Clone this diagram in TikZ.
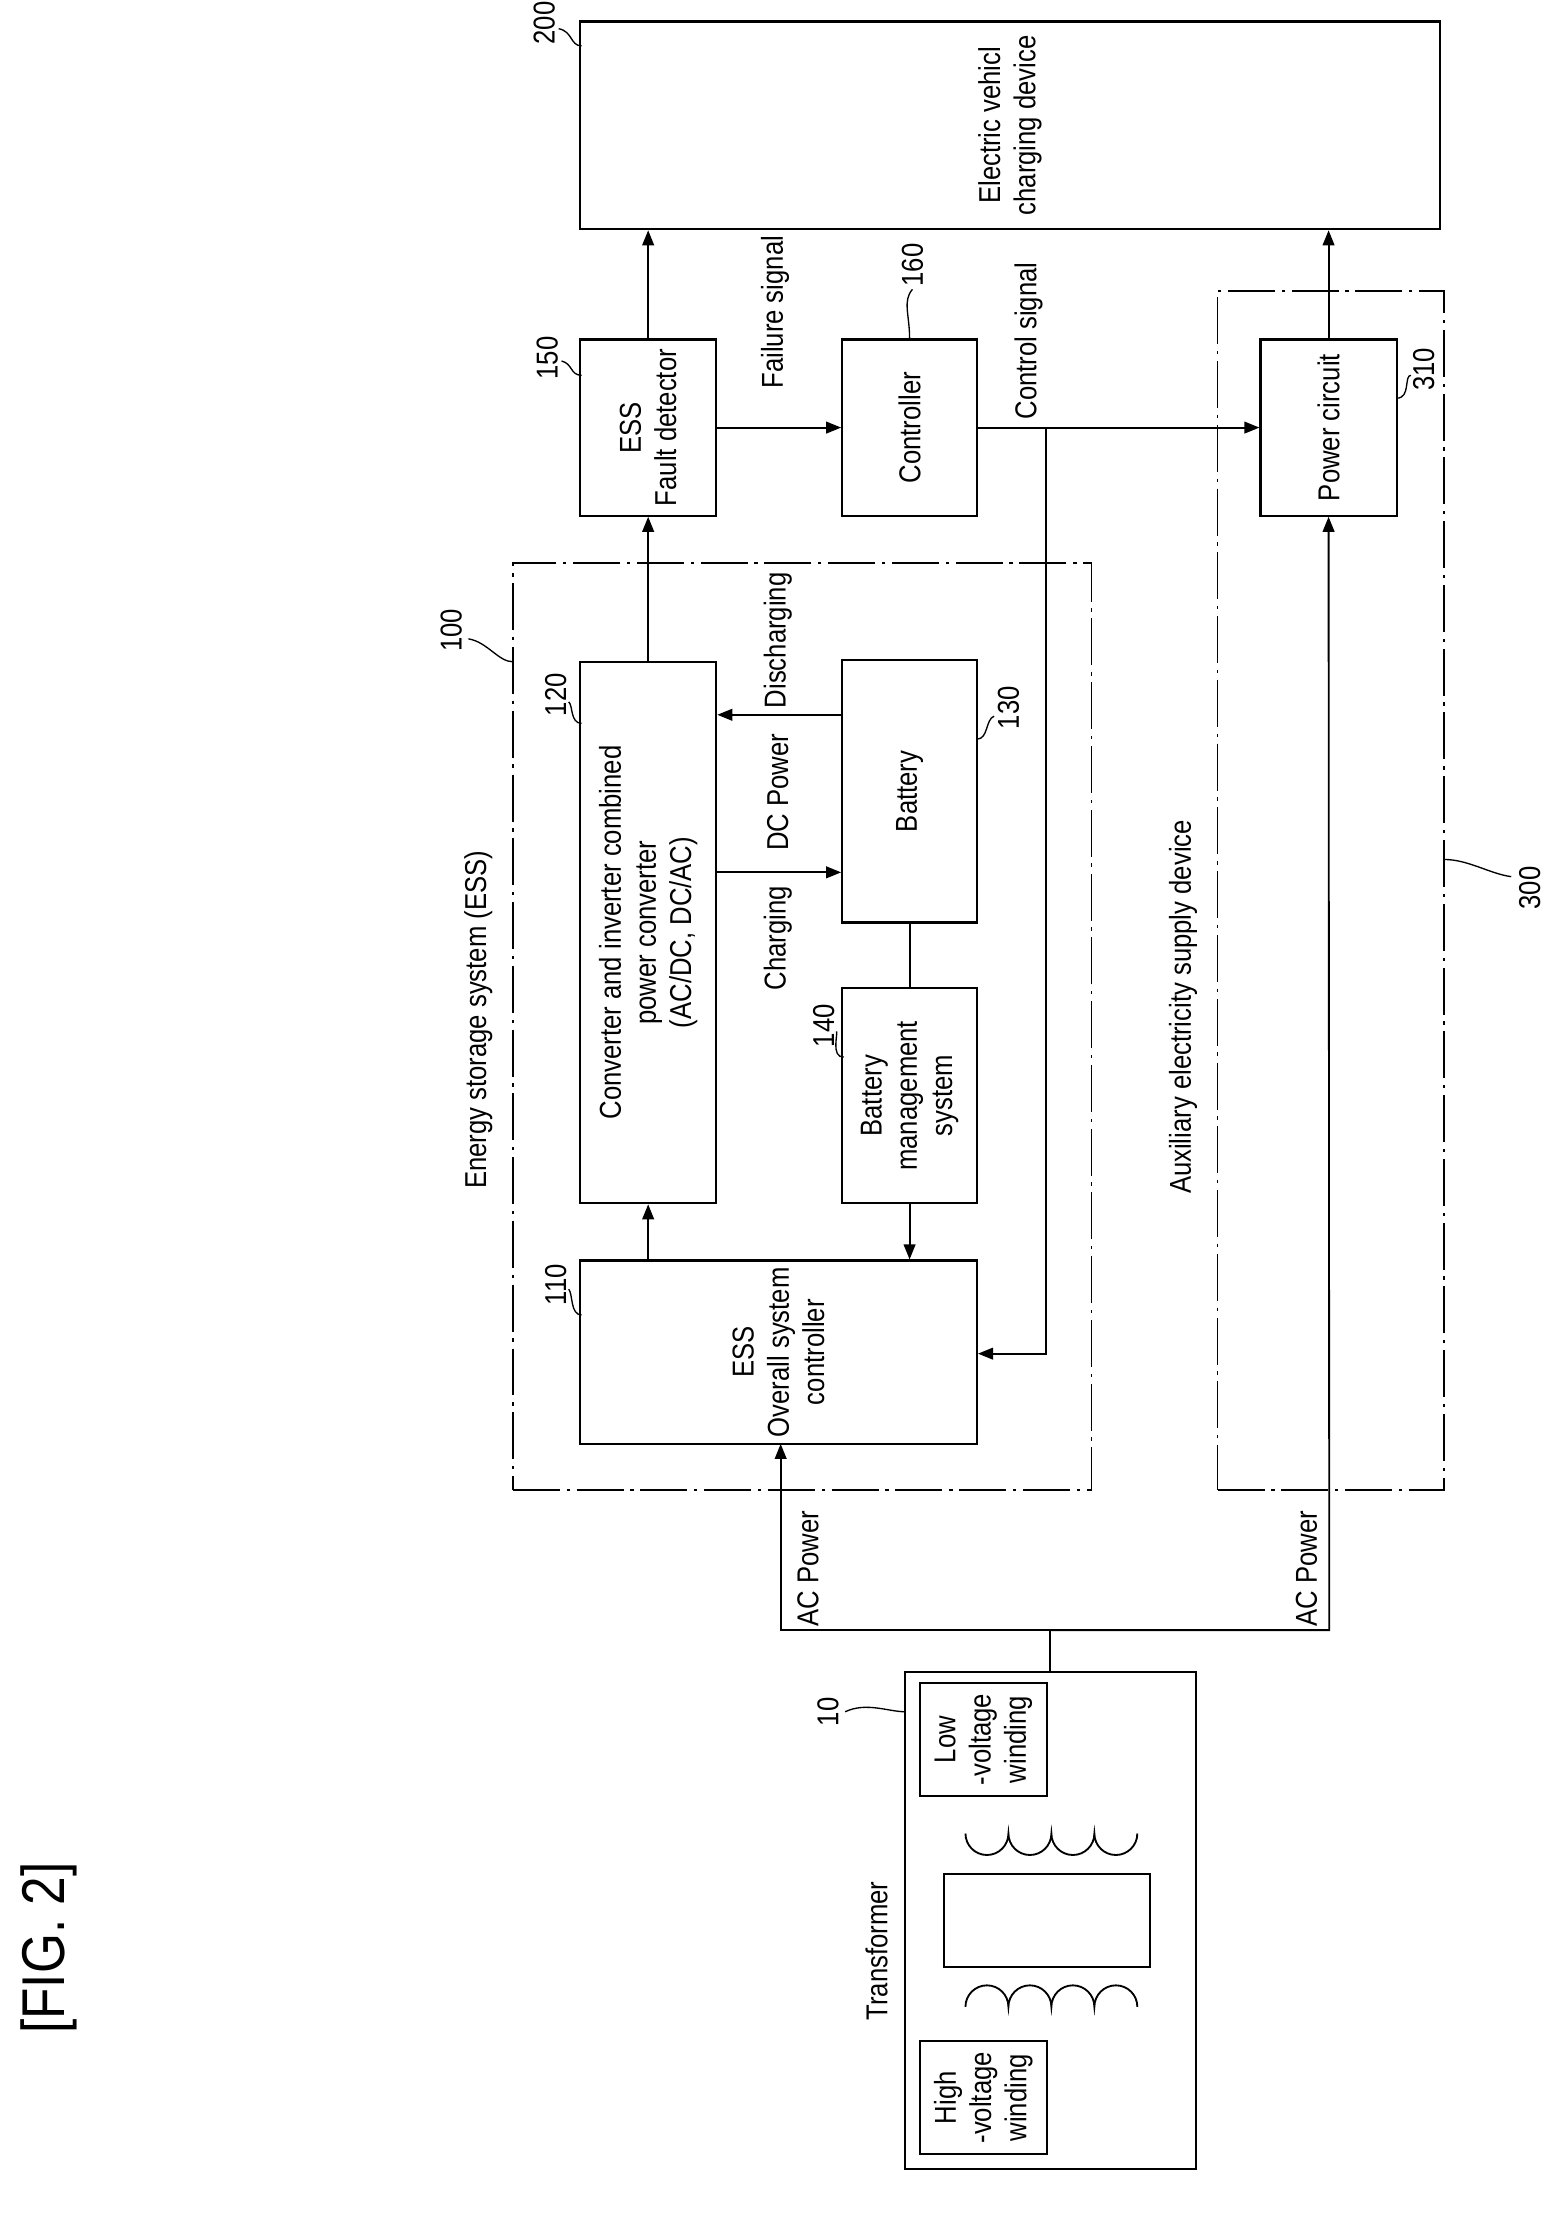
\documentclass[tikz,border=0pt]{standalone}
\usepackage{fontspec}
\setmainfont{Liberation Sans}[FakeStretch=0.85]
\usetikzlibrary{fit,arrows.meta}
\begin{document}
\begin{tikzpicture}[x=0.03cm,y=-0.03cm,
  font=\fontsize{18}{21}\selectfont,
  box/.style={draw,line width=1.3pt,inner sep=0pt},
  dd/.style={draw,line width=1.1pt,dash pattern=on 28pt off 4pt on 2pt off 4pt,inner sep=0pt},
  ln/.style={line width=1.1pt},
  ar/.style={line width=1.1pt,-{Triangle[length=9pt,width=7pt]}},
  txt/.style={rotate=90,align=center,inner sep=1pt},
  lead/.style={line width=0.8pt}]
\useasboundingbox (0,0) rectangle (1080,1561);
\newcommand{\bx}[6][box]{\coordinate (#2-a) at (#3,#4); \coordinate (#2-b) at (#5,#6);
  \node[#1,fit=(#2-a)(#2-b)] (#2) {};}
% boxes
\bx{ev}{405}{15}{1005}{160}
\bx{fd}{405}{237}{500}{360}
\bx{ct}{588}{237}{682}{360}
\bx{pc}{880}{237}{975}{360}
\bx[dd]{ess}{358}{393}{762}{1040}
\bx[dd]{aux}{850}{203}{1008}{1040}
\bx{cv}{405}{462}{500}{840}
\bx{bt}{588}{461}{682}{644}
\bx{bms}{588}{690}{682}{840}
\bx{oc}{405}{880}{682}{1008}
\bx{tr}{632}{1167}{835}{1514}
\bx{lw}{642}{1175}{731}{1254}
\bx{hw}{642}{1425}{731}{1504}
\bx{core}{659}{1308}{803}{1373}
% texts
\node[txt] (tev) at (ev) {Electric vehicl\\charging device};
\node[txt] (tfd) at (fd) {ESS\\Fault detector};
\node[txt] (tct) at (ct) {Controller};
\node[txt] (tpc) at (pc) {Power circuit};
\node[txt] (tcv) at (cv) {Converter and inverter combined\\power converter\\(AC/DC, DC/AC)};
\node[txt] (tbt) at (bt) {Battery};
\node[txt] (tbms) at (bms) {Battery\\management\\system};
\node[txt] (toc) at (oc) {ESS\\Overall system\\controller};
\node[txt] (tlw) at (lw) {Low\\-voltage\\winding};
\node[txt] (thw) at (hw) {High\\-voltage\\winding};
\node[txt] (tess) at (334,712) {Energy storage system (ESS)};
\node[txt] (taux) at (826,703) {Auxiliary electricity supply device};
\node[txt] (ttr) at (612,1362) {Transformer};
\node[txt,font=\fontsize{36}{40}\selectfont] (fig) at (34,1360) {[FIG. 2]};
\node[txt] (lfs) at (541,218) {Failure signal};
\node[txt] (lcs) at (718,238) {Control signal};
\node[txt] (ldis) at (543,447) {Discharging};
\node[txt] (ldc) at (543,553) {DC Power};
\node[txt] (lch) at (543,655) {Charging};
\node[txt] (lac1) at (564,1095) {AC Power};
\node[txt] (lac2) at (912,1095) {AC Power};
% coils
\draw[ln] (674,1280) arc[start angle=180,end angle=0,radius=15] arc[start angle=180,end angle=0,radius=15] arc[start angle=180,end angle=0,radius=15] arc[start angle=180,end angle=0,radius=15];
\draw[ln] (674,1401) arc[start angle=180,end angle=360,radius=15] arc[start angle=180,end angle=360,radius=15] arc[start angle=180,end angle=360,radius=15] arc[start angle=180,end angle=360,radius=15];
% connectors
\draw[ar] (fd.north) -- (fd.north |- ev.south);
\draw[ar] (pc.north) -- (pc.north |- ev.south);
\draw[ar] (fd.east) -- (ct.west);
\coordinate (br) at (730,298);
\draw[ar] (ct.east) -- (pc.west);
\draw[ar] (br) -- (730,945) -- (oc.east |- 0,945);
\draw[ar] (cv.north) -- (fd.south);
\draw[ar] (oc.north -| cv.north) -- (cv.south);
\draw[ar] (cv.east |- 0,609) -- (bt.west |- 0,609);
\draw[ar] (bt.west |- 0,499) -- (cv.east |- 0,499);
\draw[ln] (bt.south) -- (bms.north);
\draw[ar] (bms.south) -- (bms.south |- oc.north);
\coordinate (j) at (733,1138);
\draw[ln] (tr.north -| j) -- (j);
\draw[ar] (j) -- (545,1138) -- (545,1008);
\draw[ar] (j) -- (928,1138) -- (pc.south);
% reference numerals
\node[txt] (n200) at (380,16) {200};
\draw[lead] (406,32) .. controls (398,32) and (400,22) .. (390,20);
\node[txt] (n150) at (382,250) {150};
\draw[lead] (406,262) .. controls (398,262) and (400,254) .. (392,252);
\node[txt] (n160) at (637,185) {160};
\draw[lead] (635,236) .. controls (635,220) and (630,210) .. (637,202);
\node[txt] (n310) at (994,258) {310};
\draw[lead] (975,278) .. controls (985,278) and (980,262) .. (985,262);
\node[txt] (n100) at (315,440) {100};
\draw[lead] (358,462) .. controls (348,462) and (340,448) .. (327,446);
\node[txt] (n120) at (388,485) {120};
\draw[lead] (406,505) .. controls (398,505) and (400,492) .. (397,490);
\node[txt] (n130) at (704,494) {130};
\draw[lead] (682,516) .. controls (690,516) and (688,502) .. (694,500);
\node[txt] (n140) at (575,716) {140};
\draw[lead] (589,738) .. controls (580,738) and (585,722) .. (584,720);
\node[txt] (n110) at (388,897) {110};
\draw[lead] (406,918) .. controls (398,918) and (400,903) .. (397,900);
\node[txt] (n10) at (578,1195) {10};
\draw[lead] (632,1195) .. controls (620,1195) and (605,1188) .. (590,1195);
\node[txt] (n300) at (1068,620) {300};
\draw[lead] (1008,600) .. controls (1025,600) and (1040,610) .. (1055,612);
\end{tikzpicture}
\end{document}
